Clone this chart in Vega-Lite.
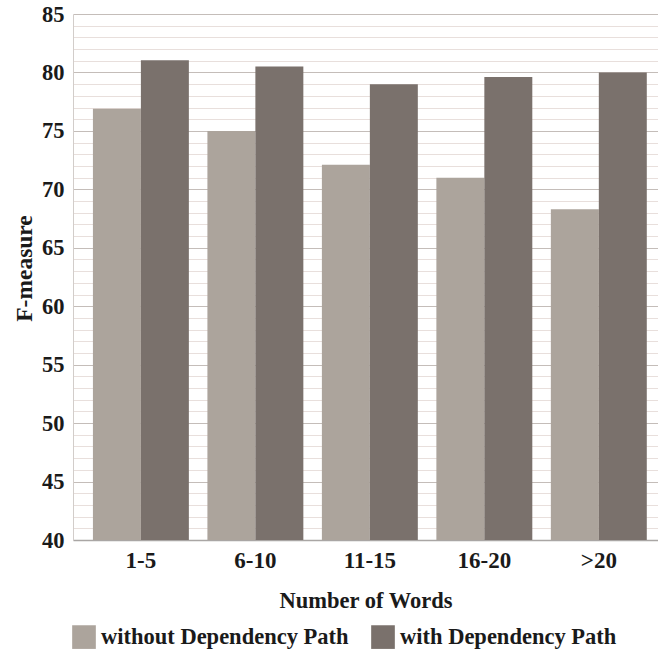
{
  "$schema": "https://vega.github.io/schema/vega-lite/v6.json",
  "autosize": "none",
  "width": 585,
  "height": 526,
  "padding": {"left": 73, "top": 14, "right": 0, "bottom": 115},
  "background": "white",
  "data": {
    "values": [
      {"words": "1-5", "series": "without Dependency Path", "f": 76.9},
      {"words": "1-5", "series": "with Dependency Path", "f": 81.05},
      {"words": "6-10", "series": "without Dependency Path", "f": 75.0},
      {"words": "6-10", "series": "with Dependency Path", "f": 80.5},
      {"words": "11-15", "series": "without Dependency Path", "f": 72.1},
      {"words": "11-15", "series": "with Dependency Path", "f": 79.0},
      {"words": "16-20", "series": "without Dependency Path", "f": 71.0},
      {"words": "16-20", "series": "with Dependency Path", "f": 79.6},
      {"words": ">20", "series": "without Dependency Path", "f": 68.3},
      {"words": ">20", "series": "with Dependency Path", "f": 80.0}
    ]
  },
  "mark": {"type": "bar", "clip": true},
  "encoding": {
    "x": {
      "field": "words",
      "type": "nominal",
      "sort": ["1-5", "6-10", "11-15", "16-20", ">20"],
      "scale": {"paddingInner": 0.162, "paddingOuter": 0.136, "align": 0.64},
      "title": "Number of Words",
      "axis": {
        "labelAngle": 0,
        "labelFont": "Liberation Serif",
        "labelFontWeight": "bold",
        "labelFontSize": 23,
        "labelColor": "#1a1a1a",
        "labelPadding": 9,
        "ticks": false,
        "domainColor": "#a9a6a4",
        "domainWidth": 1.5,
        "titleFont": "Liberation Serif",
        "titleFontWeight": "bold",
        "titleFontSize": 22.5,
        "titleColor": "#1a1a1a",
        "titlePadding": 17
      }
    },
    "xOffset": {
      "field": "series",
      "type": "nominal",
      "sort": ["without Dependency Path", "with Dependency Path"],
      "scale": {"paddingInner": 0, "paddingOuter": 0}
    },
    "y": {
      "field": "f",
      "type": "quantitative",
      "scale": {"domain": [40, 85], "nice": false, "zero": false},
      "title": "F-measure",
      "axis": {
        "values": [40,41,42,43,44,45,46,47,48,49,50,51,52,53,54,55,56,57,58,59,60,61,62,63,64,65,66,67,68,69,70,71,72,73,74,75,76,77,78,79,80,81,82,83,84,85],
        "labelExpr": "datum.value % 5 === 0 ? datum.label : ''",
        "gridColor": {"condition": {"test": "datum.value % 5 === 0", "value": "#c4bdb9"}, "value": "#e8dfdc"},
        "gridWidth": 1.2,
        "ticks": false,
        "domainColor": "#d2cdca",
        "labelFont": "Liberation Serif",
        "labelFontWeight": "bold",
        "labelFontSize": 22.5,
        "labelColor": "#1a1a1a",
        "labelPadding": 9,
        "titleFont": "Liberation Serif",
        "titleFontWeight": "bold",
        "titleFontSize": 23.5,
        "titleColor": "#1a1a1a",
        "titlePadding": 5,
        "titleY": 254
      }
    },
    "color": {
      "field": "series",
      "type": "nominal",
      "sort": ["without Dependency Path", "with Dependency Path"],
      "scale": {"domain": ["without Dependency Path", "with Dependency Path"], "range": ["#aca49c", "#7a716c"]},
      "legend": {
        "title": null,
        "orient": "none",
        "legendX": -1,
        "legendY": 611,
        "direction": "horizontal",
        "symbolType": "square",
        "symbolSize": 560,
        "symbolStrokeWidth": 0,
        "symbolOpacity": 1,
        "labelFont": "Liberation Serif",
        "labelFontWeight": "bold",
        "labelFontSize": 22.5,
        "labelColor": "#1a1a1a",
        "labelLimit": 400,
        "labelOffset": 5,
        "columnPadding": 22
      }
    }
  },
  "config": {"view": {"stroke": null}}
}
